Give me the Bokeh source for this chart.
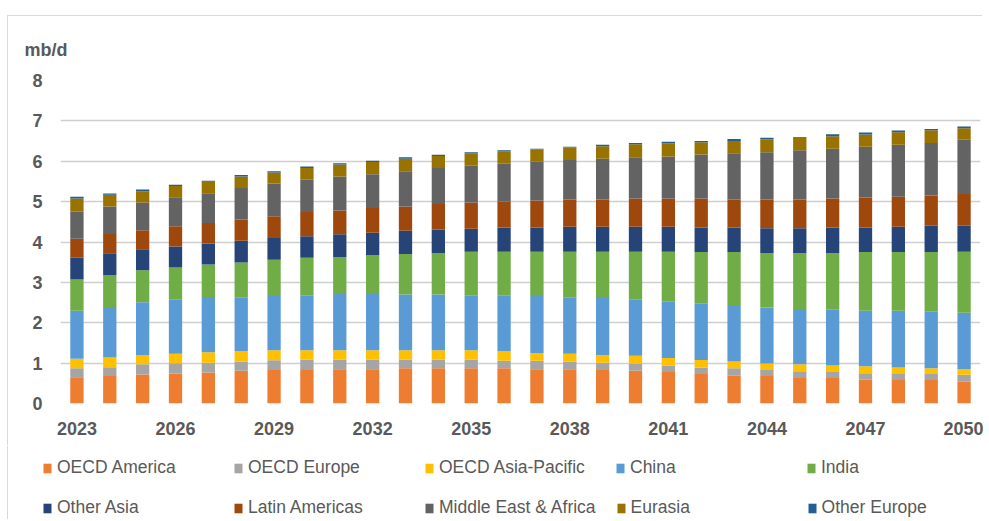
from bokeh.plotting import figure
from bokeh.models import Range1d, FixedTicker, Legend, LegendItem, ColumnDataSource
from bokeh.embed import file_html
from bokeh.resources import INLINE

years = list(range(2023, 2051))
series = ["OECD America", "OECD Europe", "OECD Asia-Pacific", "China", "India",
          "Other Asia", "Latin Americas", "Middle East & Africa", "Eurasia", "Other Europe"]
colors = ["#ED7D31", "#A5A5A5", "#FFC000", "#5B9BD5", "#70AD47",
          "#264478", "#9E480E", "#636363", "#997300", "#255E91"]

oecd_america = [0.65, 0.68, 0.72, 0.74, 0.77, 0.81, 0.83, 0.83, 0.85, 0.85, 0.87, 0.87, 0.87, 0.87,
                0.85, 0.85, 0.83, 0.81, 0.78, 0.73, 0.69, 0.68, 0.63, 0.63, 0.59, 0.58, 0.58, 0.54]
oecd_europe = [0.225, 0.22, 0.25, 0.26, 0.24, 0.23, 0.24, 0.26, 0.24, 0.24, 0.22, 0.22, 0.22, 0.19,
               0.21, 0.19, 0.18, 0.18, 0.16, 0.16, 0.18, 0.15, 0.17, 0.15, 0.16, 0.15, 0.15, 0.17]
oecd_asia_pacific = [0.235, 0.24, 0.23, 0.23, 0.26, 0.26, 0.25, 0.23, 0.23, 0.23, 0.23, 0.23, 0.23, 0.24,
                     0.19, 0.19, 0.19, 0.19, 0.19, 0.19, 0.17, 0.16, 0.17, 0.16, 0.17, 0.16, 0.14, 0.14]
china = [1.19, 1.25, 1.31, 1.34, 1.34, 1.32, 1.34, 1.35, 1.39, 1.39, 1.38, 1.38, 1.35, 1.37,
         1.41, 1.39, 1.41, 1.39, 1.39, 1.40, 1.40, 1.39, 1.37, 1.38, 1.38, 1.41, 1.40, 1.40]
india = [0.77, 0.79, 0.79, 0.80, 0.83, 0.87, 0.90, 0.94, 0.92, 0.97, 1.00, 1.02, 1.09, 1.09,
         1.10, 1.14, 1.15, 1.19, 1.24, 1.27, 1.31, 1.34, 1.38, 1.40, 1.45, 1.45, 1.48, 1.51]
other_asia = [0.54, 0.54, 0.52, 0.52, 0.52, 0.54, 0.54, 0.53, 0.56, 0.55, 0.58, 0.59, 0.57, 0.60,
              0.60, 0.62, 0.62, 0.62, 0.62, 0.61, 0.61, 0.62, 0.62, 0.64, 0.61, 0.63, 0.65, 0.64]
latin_americas = [0.47, 0.48, 0.47, 0.50, 0.51, 0.53, 0.54, 0.60, 0.59, 0.61, 0.60, 0.63, 0.65, 0.64,
                  0.67, 0.67, 0.67, 0.70, 0.70, 0.72, 0.69, 0.71, 0.71, 0.72, 0.74, 0.74, 0.75, 0.79]
middle_east_africa = [0.67, 0.68, 0.69, 0.72, 0.74, 0.78, 0.81, 0.80, 0.84, 0.84, 0.87, 0.89, 0.91, 0.94,
                      0.96, 0.98, 1.01, 1.02, 1.04, 1.09, 1.15, 1.17, 1.22, 1.23, 1.26, 1.29, 1.30, 1.34]
eurasia = [0.33, 0.29, 0.27, 0.28, 0.28, 0.28, 0.27, 0.29, 0.30, 0.30, 0.31, 0.30, 0.31, 0.31,
           0.30, 0.31, 0.31, 0.32, 0.32, 0.30, 0.30, 0.32, 0.31, 0.31, 0.30, 0.31, 0.32, 0.29]
other_europe = [0.04, 0.03, 0.05, 0.03, 0.03, 0.04, 0.03, 0.04, 0.03, 0.03, 0.04, 0.03, 0.02, 0.02,
                0.02, 0.02, 0.04, 0.03, 0.04, 0.03, 0.05, 0.04, 0.02, 0.05, 0.05, 0.04, 0.03, 0.04]

tick_years = [2023, 2026, 2029, 2032, 2035, 2038, 2041, 2044, 2047, 2050]
tick_labels = ["2023", "2026", "2029", "2032", "2035", "2038", "2041", "2044", "2047", "2050"]
y_ticks = [0, 1, 2, 3, 4, 5, 6, 7, 8]
unit_label = "mb/d"

values = [oecd_america, oecd_europe, oecd_asia_pacific, china, india,
          other_asia, latin_americas, middle_east_africa, eurasia, other_europe]
data = {"year": years}
keys = []
for i, v in enumerate(values):
    k = "s%d" % i
    keys.append(k)
    data[k] = v
source = ColumnDataSource(data)

FONT = "Liberation Sans"
GRAY = "#595959"

# main chart
p = figure(width=975, height=430, output_backend="svg", toolbar_location=None,
           x_range=Range1d(2022.5, 2050.5), y_range=Range1d(0, 8),
           min_border_left=52, min_border_right=3, min_border_top=64, min_border_bottom=43,
           background_fill_color="white", border_fill_color="white")
p.margin = (16, 0, 0, 8)
p.styles = {"box-shadow": "-1px -1px 0 0 #d9d9d9"}
p.outline_line_color = None

p.vbar_stack(keys, x="year", width=0.405, source=source,
             fill_color=colors, line_color=None)

p.xgrid.grid_line_color = None
p.ygrid.ticker = FixedTicker(ticks=y_ticks)
p.ygrid.grid_line_color = "#cfcfcf"
p.ygrid.grid_line_width = 1.5

p.yaxis.ticker = FixedTicker(ticks=y_ticks)
p.xaxis.ticker = FixedTicker(ticks=tick_years)
p.xaxis.major_label_overrides = {y: l for y, l in zip(tick_years, tick_labels)}
for ax in (p.xaxis[0], p.yaxis[0]):
    ax.axis_line_color = None
    ax.major_tick_line_color = None
    ax.minor_tick_line_color = None
    ax.major_tick_in = 0
    ax.major_tick_out = 0
    ax.major_label_text_font = FONT
    ax.major_label_text_font_style = "bold"
    ax.major_label_text_font_size = "18px"
    ax.major_label_text_color = GRAY
p.xaxis.major_label_standoff = 18
p.yaxis.major_label_standoff = 18

p.title.text = unit_label
p.title.align = "left"
p.title.offset = -36
p.title.standoff = 42
p.title.text_font = FONT
p.title.text_font_style = "bold"
p.title.text_font_size = "18px"
p.title.text_color = GRAY

# legend strip (swatch glyphs use each series' first value; they lie outside this strip's range)
lp = figure(width=975, height=73, output_backend="svg", toolbar_location=None,
            x_range=Range1d(0, 1), y_range=Range1d(0, 1),
            x_axis_type=None, y_axis_type=None,
            min_border_left=0, min_border_right=0, min_border_top=0, min_border_bottom=0,
            background_fill_color="white", border_fill_color="white")
lp.margin = (0, 0, 0, 8)
lp.styles = {"box-shadow": "-1px 0 0 0 #d9d9d9"}
lp.outline_line_color = None
lp.xgrid.grid_line_color = None
lp.ygrid.grid_line_color = None

swatches = [lp.vbar(x=years[:1], top=v[:1], width=0.405, fill_color=c, line_color=None)
            for v, c in zip(values, colors)]
items = [LegendItem(label=s, renderers=[r]) for s, r in zip(series, swatches)]
for row, ypos in ((items[:5], 41), (items[5:], 1)):
    lg = Legend(items=row, location=(34, ypos), orientation="horizontal",
                glyph_width=10, glyph_height=12, label_height=20, label_width=156,
                label_standoff=5, spacing=20, padding=0, margin=0,
                border_line_color=None, background_fill_alpha=0,
                label_text_font=FONT, label_text_font_size="17.5px", label_text_color=GRAY)
    lp.add_layout(lg)

open("out.html", "w").write(file_html([p, lp], INLINE))
